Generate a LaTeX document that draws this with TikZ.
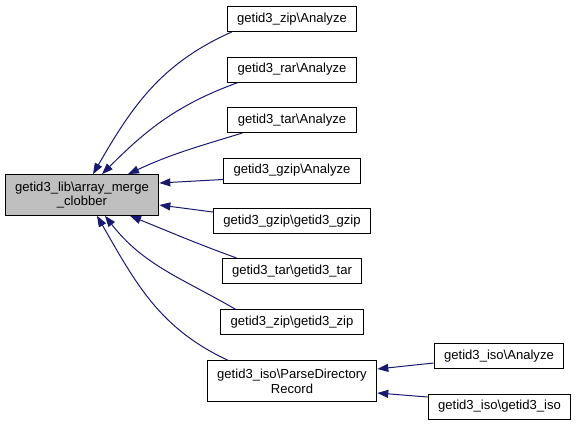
\documentclass[tikz,border=0pt]{standalone}
\usepackage{fontspec}
\setmainfont{Liberation Sans}
\usetikzlibrary{arrows.meta,calc}
\definecolor{edgeblue}{RGB}{25,25,112}
\definecolor{boxgray}{RGB}{191,191,191}

\begin{document}
\begin{tikzpicture}[x=0.75pt,y=0.75pt,
    fn/.style={draw,line width=0.75pt,inner xsep=7.5pt,inner ysep=2pt,
               minimum height=18.75pt,font=\fontsize{9.8}{11}\selectfont},
    fntwo/.style={fn,align=center,minimum height=30.5pt},
    call/.style={-{Triangle[length=8.25pt,width=6pt]},draw=edgeblue,
                 fill=none,line width=0.75pt}]
    \useasboundingbox (0,0) rectangle (576,-425);

    %callee
    \node [fntwo,fill=boxgray] (main) at (82,-195)
          {getid3\_lib\textbackslash array\_merge\\\_clobber};

    %callers
    \foreach \nm/\txt/\y in {zipA/getid3\_zip\textbackslash Analyze/19,
                             rarA/getid3\_rar\textbackslash Analyze/69.5,
                             tarA/getid3\_tar\textbackslash Analyze/120,
                             gzipA/getid3\_gzip\textbackslash Analyze/170.5,
                             gzipG/getid3\_gzip\textbackslash getid3\_gzip/221,
                             tarG/getid3\_tar\textbackslash getid3\_tar/271,
                             zipG/getid3\_zip\textbackslash getid3\_zip/322}
      \node [fn] (\nm) at (292,-\y) {\txt};
    \node [fntwo] (PDR) at (292,-381)
          {getid3\_iso\textbackslash ParseDirectory\\Record};

    %callers of ParseDirectoryRecord
    \node [fn] (isoA) at (499,-356) {getid3\_iso\textbackslash Analyze};
    \node [fn] (isoG) at (499.5,-406.5) {getid3\_iso\textbackslash getid3\_iso};

    %edges
    \draw [call] ($(zipA.south west)+(5,0)$) to[out=204,in=60] ($(main.north)+(11,0)$);
    \draw [call] ($(rarA.south west)+(11,0)$) to[out=200,in=45] ($(main.north)+(20,0)$);
    \draw [call] ($(tarA.south west)+(15,0)$) to[out=197,in=25] ($(main.north)+(46,0)$);
    \draw [call] ($(gzipA.west)+(0,-9)$) -- ($(main.east)+(0,12)$);
    \draw [call] ($(gzipG.west)+(0,9)$) -- ($(main.east)+(0,-10)$);
    \draw [call] ($(tarG.north west)+(15,0)$) to[out=160,in=-22] ($(main.south)+(48,0)$);
    \draw [call] ($(zipG.north west)+(15,0)$) to[out=150,in=-52] ($(main.south)+(23,0)$);
    \draw [call] ($(PDR.north west)+(21,0)$) to[out=155,in=-60] ($(main.south)+(15,0)$);

    \draw [call] ($(isoA.west)+(0,-7)$) -- ($(PDR.east)+(0,12)$);
    \draw [call] ($(isoG.west)+(0,9.5)$) -- ($(PDR.east)+(0,-12)$);
\end{tikzpicture}
\end{document}
